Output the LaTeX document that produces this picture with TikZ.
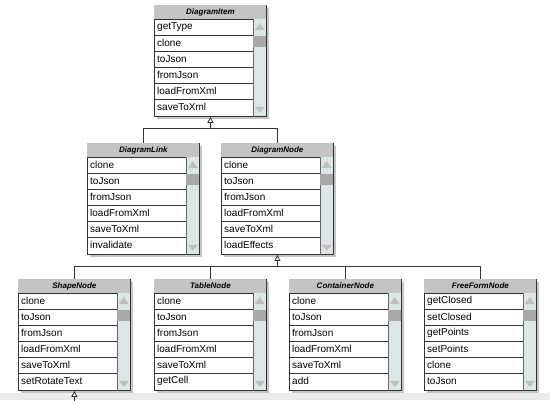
\documentclass[tikz,border=0pt]{standalone}
\usepackage{fontspec}
\setmainfont{Liberation Sans}
\usetikzlibrary{arrows.meta,shadows}
\definecolor{hdr}{HTML}{C4C4C4}
\definecolor{sb}{HTML}{DCE6E6}
\definecolor{thumb}{HTML}{A8A8A8}
\tikzset{
  frame/.style={draw=black!80,line width=0.8pt,fill=white,inner sep=0,anchor=north west,
     minimum width=112pt,minimum height=111pt,drop shadow={shadow xshift=2.5pt,shadow yshift=-2.5pt,opacity=0.45}},
  title/.style={font=\fontsize{8}{9}\selectfont\bfseries\itshape,inner sep=0},
  item/.style={font=\fontsize{10}{11}\selectfont,anchor=west,inner sep=0},
  conn/.style={draw=black!80,line width=0.8pt},
  inh/.style={conn,-{Triangle[open,length=6pt,width=6pt]}}
}
\newcommand\umlbox[5]{%
  \node[frame] (#1) at (#2,-#3) {};
  \fill[hdr] ([shift={(0.4pt,-0.4pt)}]#1.north west) rectangle ([shift={(-0.4pt,-14pt)}]#1.north east);
  \draw[black!80,line width=0.8pt] ([yshift=-14pt]#1.north west) -- ([yshift=-14pt]#1.north east);
  \node[title] (#1-t) at ([yshift=-7pt]#1.north) {#4};
  \fill[sb] ([shift={(-14pt,-14.4pt)}]#1.north east) rectangle ([shift={(-0.4pt,0.4pt)}]#1.south east);
  \draw[black!60] ([shift={(-14pt,-14pt)}]#1.north east) -- ([xshift=-14pt]#1.south east);
  \fill[thumb] ([shift={(-13.5pt,-31pt)}]#1.north east) rectangle ([shift={(-1pt,-42pt)}]#1.north east);
  \fill[black!25] ([shift={(-7pt,-18pt)}]#1.north east) -- ([shift={(-12pt,-25pt)}]#1.north east) -- ([shift={(-2pt,-25pt)}]#1.north east) -- cycle;
  \fill[black!25] ([shift={(-7pt,4pt)}]#1.south east) -- ([shift={(-12pt,10pt)}]#1.south east) -- ([shift={(-2pt,10pt)}]#1.south east) -- cycle;
  \foreach \it [count=\i] in {#5} {
    \node[item] (#1-\i) at ([shift={(3pt,{-14pt-16pt*\i+8pt})}]#1.north west) {\it};
    \ifnum\i<6
      \draw[black!80,line width=0.6pt] ([shift={(0,{-14pt-16pt*\i})}]#1.north west) -- ([shift={(-14pt,{-14pt-16pt*\i})}]#1.north east);
    \fi
  }
}
\begin{document}
\begin{tikzpicture}[x=1pt,y=1pt]
\useasboundingbox (0,0) rectangle (550,-400);
\fill[white] (0,0) rectangle (550,-400);
\fill[black!8] (0,-393) rectangle (550,-400);
\umlbox{item}{154}{5}{DiagramItem}{getType,clone,toJson,fromJson,loadFromXml,saveToXml}
\umlbox{link}{87}{143}{DiagramLink}{clone,toJson,fromJson,loadFromXml,saveToXml,invalidate}
\umlbox{node}{221}{143}{DiagramNode}{clone,toJson,fromJson,loadFromXml,saveToXml,loadEffects}
\umlbox{shape}{18}{279}{ShapeNode}{clone,toJson,fromJson,loadFromXml,saveToXml,setRotateText}
\umlbox{table}{154}{279}{TableNode}{clone,toJson,fromJson,loadFromXml,saveToXml,getCell}
\umlbox{cont}{289}{279}{ContainerNode}{clone,toJson,fromJson,loadFromXml,saveToXml,add}
\umlbox{free}{424}{279}{FreeFormNode}{getClosed,setClosed,getPoints,setPoints,clone,toJson}
\coordinate (j1) at ([yshift=-12pt]item.south);
\coordinate (j2) at ([yshift=-12pt]node.south);
\draw[inh] (j1) -- (item.south);
\draw[conn] (link.north) |- (j1) -| (node.north);
\draw[inh] (j2) -- (node.south);
\draw[conn] (shape.north) |- (j2) -| (free.north);
\draw[conn] (table.north) -- (table.north |- j2);
\draw[conn] (cont.north) -- (cont.north |- j2);
\coordinate (j3) at ([yshift=-12pt]shape.south);
\draw[inh] (j3) -- (shape.south);
\end{tikzpicture}
\end{document}
